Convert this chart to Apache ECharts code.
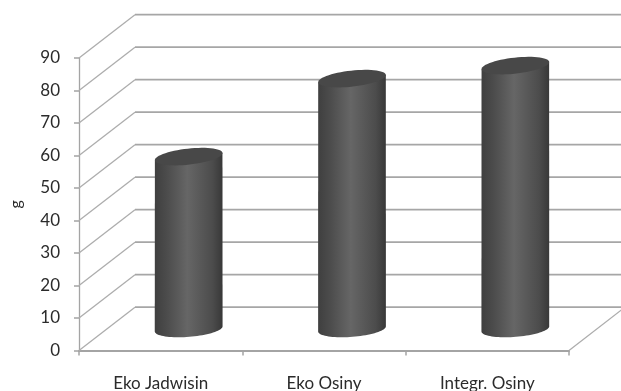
<!DOCTYPE html>
<html>
<head>
<meta charset="utf-8">
<style>
  html, body { margin: 0; padding: 0; background: #fff; }
  #chart { width: 621px; height: 391px; }
</style>
</head>
<body>
<div id="chart"></div>
<script src="https://cdn.jsdelivr.net/npm/echarts@6/dist/echarts.min.js"></script>
<script>
// values
let categories = ['Eko Jadwisin', 'Eko Osiny', 'Integr. Osiny']
let grams = [53, 77, 81]
let yTicks = [0, 10, 20, 30, 40, 50, 60, 70, 80, 90]

let chart = echarts.init(document.getElementById('chart'))

// fake 3d depth of the box
let depthX = 56
let depthY = 43.3

function renderWall(params, api) {
    let cs = params.coordSys
    let tick = api.value(0)
    let y = api.coord([0, tick])[1]
    let children = [{
        type: 'polyline',
        shape: { points: [[cs.x, y], [cs.x + depthX, y - depthY]] },
        style: { fill: null, stroke: '#adadad', lineWidth: 1.3 }
    }, {
        type: 'line',
        shape: { x1: cs.x + depthX, y1: y - depthY, x2: 621, y2: y - depthY },
        style: { stroke: '#a6a6a6', lineWidth: 1.8 }
    }]
    // right edge of the floor
    if (tick === 0) {
        children.push({
            type: 'line',
            shape: { x1: cs.x + cs.width, y1: y, x2: cs.x + cs.width + depthX, y2: y - depthY },
            style: { stroke: '#adadad', lineWidth: 1.3 }
        })
    }
    return { type: 'group', children: children }
}

function ellipsePoint(cx, cy, rx, ry, rot, t) {
    return [
        cx + rx * Math.cos(t) * Math.cos(rot) - ry * Math.sin(t) * Math.sin(rot),
        cy + rx * Math.cos(t) * Math.sin(rot) + ry * Math.sin(t) * Math.cos(rot)
    ]
}

function renderCylinder(params, api) {
    let top = api.coord([api.value(0), api.value(1)])
    let base = api.coord([api.value(0), 0])
    let cx = top[0] + 28
    let topY = top[1] - depthY / 2
    let baseY = base[1] - depthY / 2
    let rx = 34
    let ry = 8

    let body = []
    // down the left side, round the front of the base, back up the right side
    body.push(ellipsePoint(cx, topY, rx, ry, -0.11, Math.PI))
    for (let i = 0; i <= 40; i++) {
        body.push(ellipsePoint(cx, baseY, rx, ry, -0.08, Math.PI - Math.PI * i / 40))
    }
    body.push(ellipsePoint(cx, topY, rx, ry, -0.11, 0))

    let lid = []
    for (let i = 0; i < 60; i++) {
        lid.push(ellipsePoint(cx, topY, rx, ry, -0.11, Math.PI * 2 * i / 60))
    }

    return {
        type: 'group',
        children: [{
            type: 'polygon',
            shape: { points: body },
            style: {
                fill: new echarts.graphic.LinearGradient(0, 0, 1, 0, [
                    { offset: 0, color: '#3f3f3f' },
                    { offset: 0.18, color: '#4c4c4c' },
                    { offset: 0.48, color: '#666666' },
                    { offset: 0.85, color: '#4c4c4c' },
                    { offset: 1, color: '#383838' }
                ])
            }
        }, {
            type: 'polygon',
            shape: { points: lid },
            style: { fill: '#484848' }
        }]
    }
}

let option = {
    animation: false,
    backgroundColor: '#fff',
    textStyle: { fontFamily: 'Lato' },
    grid: { left: 79, top: 58, width: 490, height: 292.5, outerBoundsMode: 'none' },
    xAxis: {
        type: 'category',
        data: categories,
        axisLine: { lineStyle: { color: '#a4a4a4', width: 2 } },
        axisTick: { show: true, alignWithLabel: false, length: 5, lineStyle: { color: '#a4a4a4', width: 1.5 } },
        axisLabel: { color: '#2b2b2b', fontSize: 17, fontFamily: 'Lato', margin: 25 }
    },
    yAxis: {
        type: 'value',
        min: 0,
        max: 90,
        interval: 10,
        name: 'g',
        nameLocation: 'middle',
        nameGap: 55,
        nameRotate: 90,
        nameTextStyle: { color: '#2b2b2b', fontSize: 16, fontFamily: 'Lato' },
        axisLine: { show: true, lineStyle: { color: '#a4a4a4', width: 1.3 } },
        axisTick: { show: true, length: 5, lineStyle: { color: '#a4a4a4', width: 1.5 } },
        axisLabel: { color: '#2b2b2b', fontSize: 17, fontFamily: 'Lato', margin: 19 },
        splitLine: { show: false }
    },
    series: [{
        type: 'custom',
        z: 1,
        clip: false,
        silent: true,
        renderItem: renderWall,
        encode: { y: 0 },
        data: yTicks.map(function(t) { return [t] })
    }, {
        type: 'custom',
        z: 3,
        clip: false,
        renderItem: renderCylinder,
        encode: { x: 0, y: 1 },
        data: grams.map(function(v, i) { return [i, v] })
    }]
}

chart.setOption(option)
</script>
</body>
</html>
